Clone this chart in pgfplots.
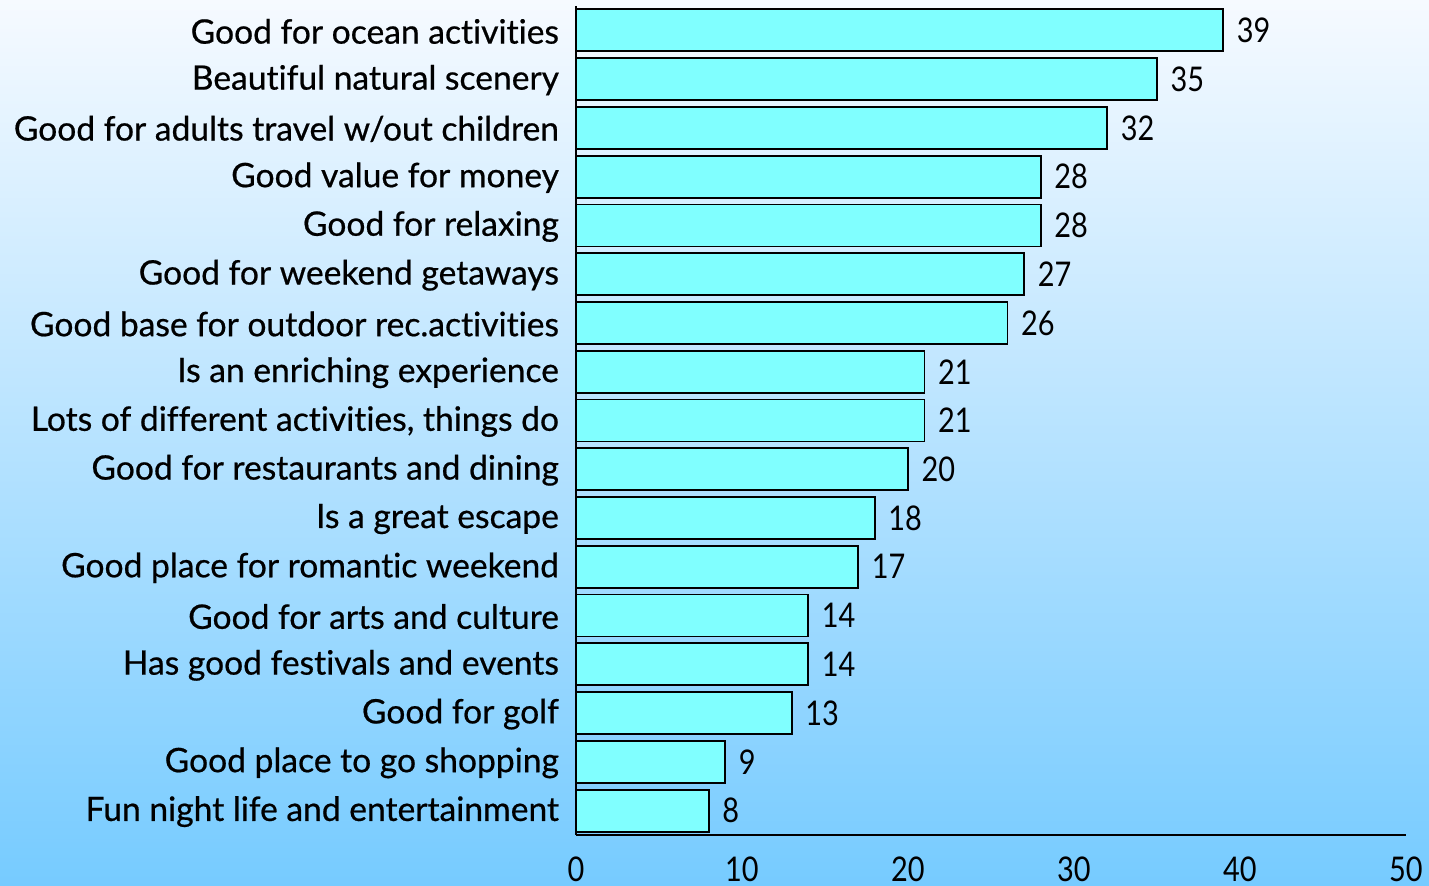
\documentclass[border=0pt]{standalone}
\usepackage{pgfplots}
\pgfplotsset{compat=1.18}
\usepackage{fontspec}
\setmainfont{Lato}[Ligatures=NoCommon, FakeBold=0.4]
\newfontfamily\labfont{Lato}[Ligatures=NoCommon, FakeBold=0.6]
\newfontfamily\numfont{Lato}[FakeStretch=0.85]
\definecolor{bgtop}{HTML}{F6FAFF}
\definecolor{bgbot}{HTML}{76CBFF}
\definecolor{barfill}{HTML}{80FFFF}
\pgfplotstableread{
y v
0 39
1 35
2 32
3 28
4 28
5 27
6 26
7 21
8 21
9 20
10 18
11 17
12 14
13 14
14 13
15 9
16 8
}\datatable
\begin{document}
\begin{tikzpicture}
\fill[top color=bgtop, bottom color=bgbot] (-288pt,-25.5pt) rectangle (426.5pt,417.5pt);
\begin{axis}[
  at={(0,0)}, anchor=south west,
  scale only axis, width=415pt, height=414.5pt,
  xmin=0, xmax=50, ymin=-0.5, ymax=16.5,
  y dir=reverse,
  axis x line*=bottom, axis y line*=left,
  axis line style={black, line width=1.2pt},
  xtick={0,10,...,50}, major tick length=0pt,
  ytick={0,...,16},
  yticklabels={Good for ocean activities, Beautiful natural scenery, Good for adults travel w/out children\hspace{4pt}, Good value for money\hspace{4pt}, Good for relaxing, Good for weekend getaways, Good base for outdoor rec.activities\hspace{4pt}, Is an enriching experience\hspace{4pt}, {Lots of different activities, things do}, Good for restaurants and dining\hspace{4pt}, Is a great escape, Good place for romantic weekend, Good for arts and culture\hspace{4pt}, Has good festivals and events, Good for golf, Good place to go shopping, Fun night life and entertainment},
  yticklabel style={font=\labfont\fontsize{16.8}{18}\selectfont, anchor=east, xshift=-5pt, yshift=-0.5pt},
  xticklabel style={font=\numfont\fontsize{17}{19}\selectfont, anchor=north, inner sep=0pt, text depth=0pt, yshift=-10.5pt},
  /pgf/number format/assume math mode=true,
  xbar, bar width=21pt,
  nodes near coords,
  nodes near coords style={font=\numfont\fontsize{17}{19}\selectfont, anchor=west, xshift=3pt},
  clip=false,
]
\addplot[draw=black, line width=0.9pt, fill=barfill] table[x=v, y=y] {\datatable};
\end{axis}
\pgfresetboundingbox
\path[use as bounding box] (-288pt,-25.5pt) rectangle (426.5pt,417.5pt);
\end{tikzpicture}
\end{document}
